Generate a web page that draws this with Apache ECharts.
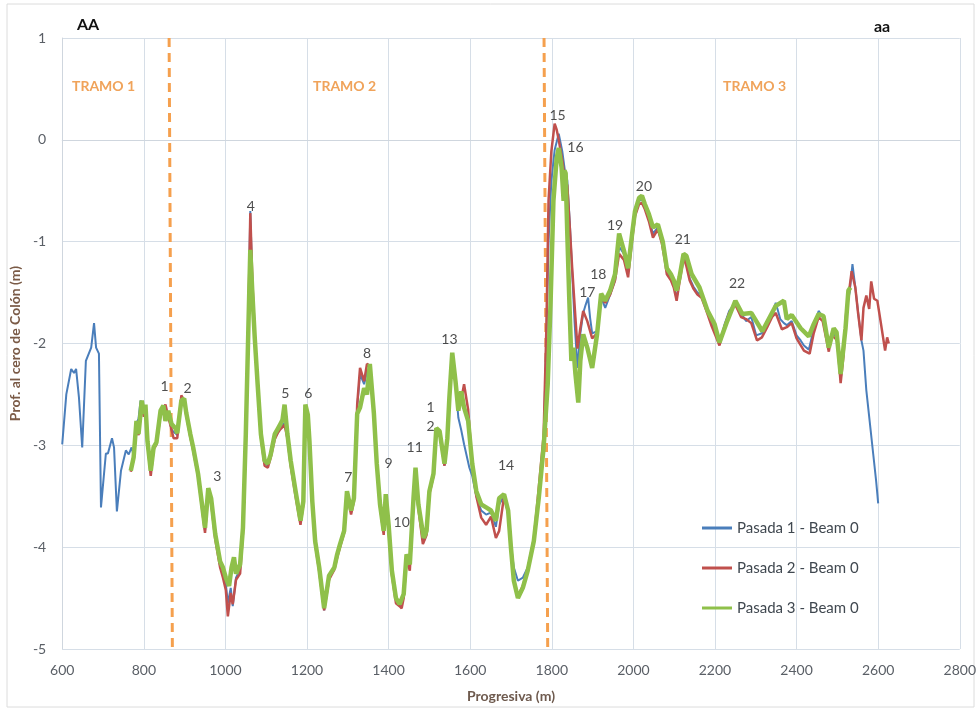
<!DOCTYPE html>
<html>
<head>
<meta charset="utf-8">
<script src="https://cdn.jsdelivr.net/npm/echarts@6/dist/echarts.min.js"></script>
<style>
  html, body { margin: 0; padding: 0; background: #fff; }
  #chart { width: 979px; height: 715px; }
</style>
</head>
<body>
<div id="chart"></div>
<script>
// Axis ranges
const xRange = [600, 2800, 200];
const yRange = [-5, 1, 1];

// Pasada 1 - Beam 0 (progresiva m, profundidad m)
const pasada1 = [
  [600,-2.99],[610,-2.5],[622,-2.25],[629,-2.29],[634,-2.25],[641,-2.53],[649,-3.02],[658,-2.17],[671,-2.04],
  [678,-1.8],[683,-2.04],[690,-2.1],[695,-3.61],[707,-3.08],[712,-3.08],[722,-2.93],[727,-3.02],[734,-3.65],
  [744,-3.25],[756,-3.05],[763,-3.09],[770,-3.02],[775,-3.1],[782,-2.78],[787,-2.74],[792,-2.56],[800,-2.7],
  [804,-2.62],[809,-2.95],[817,-3.27],[824,-3.03],[831,-2.98],[841,-2.68],[848,-2.63],[853,-2.66],[860,-2.7],
  [868,-2.85],[877,-2.88],[882,-2.9],[892,-2.54],[899,-2.55],[904,-2.7],[914,-2.9],[921,-3.04],[933,-3.3],
  [950,-3.84],[958,-3.45],[965,-3.56],[975,-3.9],[987,-4.18],[994,-4.25],[1001,-4.36],[1006,-4.55],[1013,-4.4],
  [1018,-4.58],[1026,-4.3],[1036,-4.22],[1043,-3.85],[1050,-2.9],[1056,-1.8],[1061,-0.7],[1066,-1.4],[1072,-1.9],
  [1079,-2.38],[1087,-2.9],[1096,-3.17],[1104,-3.2],[1111,-3.1],[1121,-2.92],[1128,-2.88],[1135,-2.82],[1140,-2.8],
  [1145,-2.78],[1152,-2.92],[1160,-3.17],[1172,-3.48],[1184,-3.76],[1191,-3.57],[1196,-2.62],[1202,-2.72],
  [1206,-2.98],[1213,-3.56],[1220,-3.95],[1230,-4.22],[1242,-4.62],[1254,-4.3],[1267,-4.2],[1274,-4.08],
  [1281,-3.98],[1291,-3.85],[1298,-3.47],[1308,-3.66],[1315,-3.54],[1323,-2.62],[1330,-2.3],[1340,-2.4],
  [1347,-2.28],[1354,-2.25],[1364,-2.7],[1371,-3.2],[1379,-3.6],[1388,-3.86],[1393,-3.5],[1400,-3.8],[1408,-4.25],
  [1418,-4.52],[1427,-4.57],[1432,-4.55],[1437,-4.48],[1444,-4.1],[1452,-4.2],[1461,-3.54],[1466,-3.24],
  [1473,-3.6],[1486,-3.95],[1493,-3.86],[1500,-3.47],[1510,-3.3],[1517,-2.85],[1525,-2.88],[1537,-3.2],
  [1544,-2.95],[1549,-2.55],[1556,-2.1],[1564,-2.4],[1571,-2.73],[1578,-2.85],[1585,-2.99],[1598,-3.22],
  [1605,-3.3],[1615,-3.5],[1627,-3.64],[1639,-3.68],[1651,-3.66],[1663,-3.8],[1671,-3.58],[1683,-3.5],
  [1693,-3.66],[1700,-3.98],[1707,-4.2],[1717,-4.33],[1729,-4.3],[1741,-4.2],[1756,-3.92],[1768,-3.48],
  [1780,-2.96],[1787,-1.9],[1792,-1.0],[1799,-0.4],[1807,-0.1],[1817,0.06],[1826,-0.12],[1832,-0.3],
  [1838,-0.4],[1844,-0.8],[1850,-1.3],[1856,-1.8],[1863,-2.24],[1870,-1.9],[1877,-1.7],[1883,-1.62],
  [1889,-1.55],[1894,-1.75],[1899,-1.9],[1911,-1.88],[1921,-1.55],[1931,-1.65],[1943,-1.52],[1955,-1.38],
  [1965,-1.05],[1977,-1.12],[1987,-1.3],[1997,-0.95],[2004,-0.72],[2014,-0.6],[2021,-0.58],[2028,-0.66],
  [2038,-0.78],[2048,-0.92],[2060,-0.86],[2070,-1.0],[2077,-1.16],[2082,-1.3],[2092,-1.36],[2099,-1.42],
  [2106,-1.56],[2113,-1.38],[2123,-1.15],[2130,-1.22],[2138,-1.36],[2147,-1.44],[2157,-1.5],[2167,-1.52],
  [2179,-1.65],[2191,-1.8],[2201,-1.9],[2211,-2.0],[2223,-1.82],[2235,-1.68],[2250,-1.6],[2264,-1.7],
  [2276,-1.78],[2289,-1.74],[2301,-1.92],[2315,-1.9],[2328,-1.8],[2340,-1.7],[2349,-1.6],[2360,-1.76],
  [2369,-1.8],[2376,-1.82],[2388,-1.78],[2400,-1.92],[2410,-1.97],[2418,-2.02],[2430,-2.06],[2442,-1.86],
  [2454,-1.68],[2464,-1.74],[2471,-1.9],[2479,-2.06],[2486,-1.9],[2495,-1.92],[2500,-1.95],[2508,-2.36],
  [2515,-2.1],[2522,-1.66],[2530,-1.5],[2537,-1.22],[2544,-1.45],[2551,-1.7],[2559,-1.97],[2564,-2.07],
  [2571,-2.46],[2581,-2.83],[2588,-3.09],[2595,-3.35],[2598,-3.48],[2600,-3.57]
];

// Pasada 2 - Beam 0
const pasada2 = [
  [768,-3.26],[775,-3.14],[782,-2.8],[787,-2.9],[795,-2.6],[800,-2.72],[804,-2.63],[809,-2.98],[817,-3.3],
  [824,-3.04],[831,-2.99],[841,-2.7],[848,-2.64],[853,-2.6],[860,-2.72],[868,-2.85],[873,-2.93],[882,-2.93],
  [892,-2.51],[899,-2.56],[904,-2.7],[914,-2.92],[921,-3.05],[933,-3.3],[950,-3.86],[958,-3.46],[965,-3.56],
  [975,-3.92],[987,-4.2],[994,-4.3],[1001,-4.42],[1006,-4.68],[1013,-4.45],[1018,-4.56],[1026,-4.32],
  [1036,-4.26],[1043,-3.86],[1050,-2.92],[1056,-1.85],[1061,-0.72],[1066,-1.38],[1072,-1.92],[1079,-2.4],
  [1087,-2.92],[1096,-3.2],[1104,-3.22],[1111,-3.12],[1121,-2.94],[1128,-2.88],[1135,-2.84],[1140,-2.82],
  [1145,-2.8],[1152,-2.93],[1160,-3.2],[1172,-3.5],[1184,-3.78],[1191,-3.58],[1196,-2.63],[1202,-2.74],
  [1206,-3.0],[1213,-3.58],[1220,-3.97],[1230,-4.24],[1242,-4.62],[1254,-4.32],[1267,-4.22],[1274,-4.1],
  [1281,-4.0],[1291,-3.86],[1298,-3.48],[1308,-3.68],[1315,-3.55],[1323,-2.6],[1330,-2.24],[1340,-2.37],
  [1347,-2.2],[1354,-2.22],[1364,-2.7],[1371,-3.2],[1379,-3.6],[1388,-3.88],[1393,-3.5],[1400,-3.82],
  [1408,-4.27],[1418,-4.55],[1427,-4.58],[1432,-4.6],[1437,-4.5],[1444,-4.12],[1452,-4.23],[1461,-3.55],
  [1466,-3.25],[1473,-3.62],[1484,-3.97],[1493,-3.88],[1500,-3.48],[1510,-3.3],[1517,-2.85],[1525,-2.88],
  [1537,-3.2],[1544,-2.95],[1549,-2.55],[1556,-2.1],[1564,-2.38],[1571,-2.62],[1578,-2.55],[1585,-2.4],
  [1595,-2.65],[1605,-3.2],[1615,-3.5],[1627,-3.71],[1639,-3.78],[1651,-3.7],[1663,-3.91],[1671,-3.84],
  [1683,-3.5],[1693,-3.66],[1700,-4.02],[1707,-4.32],[1717,-4.48],[1729,-4.38],[1741,-4.22],[1756,-3.92],
  [1768,-3.42],[1780,-2.9],[1787,-1.8],[1792,-0.6],[1799,-0.11],[1807,0.16],[1812,0.1],[1817,0.0],
  [1826,-0.21],[1831,-0.35],[1838,-0.45],[1844,-0.85],[1850,-1.26],[1858,-1.75],[1863,-2.05],[1870,-1.85],
  [1877,-1.68],[1887,-1.78],[1899,-1.95],[1911,-1.9],[1921,-1.55],[1931,-1.6],[1943,-1.52],[1955,-1.38],
  [1965,-1.12],[1977,-1.18],[1987,-1.35],[1997,-0.98],[2004,-0.75],[2014,-0.63],[2021,-0.62],[2028,-0.68],
  [2038,-0.8],[2048,-0.96],[2060,-0.88],[2070,-1.02],[2077,-1.18],[2082,-1.32],[2092,-1.38],[2099,-1.45],
  [2106,-1.58],[2113,-1.4],[2123,-1.16],[2130,-1.24],[2138,-1.38],[2147,-1.46],[2157,-1.52],[2167,-1.55],
  [2179,-1.68],[2191,-1.82],[2201,-1.92],[2211,-2.02],[2223,-1.84],[2235,-1.7],[2250,-1.62],[2264,-1.74],
  [2276,-1.76],[2289,-1.8],[2303,-1.97],[2315,-1.94],[2328,-1.84],[2340,-1.74],[2349,-1.7],[2364,-1.86],
  [2376,-1.84],[2388,-1.8],[2400,-1.95],[2418,-2.07],[2432,-2.1],[2442,-1.9],[2454,-1.74],[2464,-1.78],
  [2471,-1.92],[2479,-2.08],[2486,-1.92],[2495,-1.95],[2500,-1.98],[2508,-2.39],[2515,-2.12],[2522,-1.68],
  [2530,-1.45],[2535,-1.29],[2544,-1.45],[2551,-1.71],[2559,-1.97],[2564,-1.65],[2571,-1.53],[2578,-1.66],
  [2583,-1.39],[2590,-1.56],[2598,-1.58],[2607,-1.81],[2617,-2.07],[2622,-1.94],[2626,-2.0]
];

// Pasada 3 - Beam 0
const pasada3 = [
  [768,-3.25],[775,-3.12],[782,-2.76],[787,-2.89],[795,-2.56],[800,-2.69],[804,-2.6],[809,-2.96],[817,-3.25],
  [824,-3.02],[831,-2.97],[841,-2.66],[848,-2.61],[853,-2.76],[860,-2.66],[868,-2.79],[877,-2.83],[882,-2.88],
  [892,-2.56],[899,-2.54],[904,-2.68],[914,-2.89],[921,-3.02],[933,-3.28],[950,-3.81],[958,-3.42],[965,-3.52],
  [975,-3.87],[987,-4.14],[994,-4.2],[1001,-4.3],[1009,-4.38],[1015,-4.2],[1021,-4.1],[1026,-4.26],
  [1036,-4.17],[1043,-3.81],[1050,-2.89],[1056,-1.9],[1061,-1.08],[1066,-1.5],[1072,-1.95],[1079,-2.4],
  [1087,-2.89],[1096,-3.15],[1104,-3.18],[1111,-3.09],[1121,-2.89],[1128,-2.84],[1135,-2.79],[1140,-2.75],
  [1145,-2.6],[1152,-2.89],[1160,-3.15],[1172,-3.45],[1184,-3.74],[1191,-3.55],[1196,-2.6],[1202,-2.7],
  [1206,-2.96],[1213,-3.55],[1220,-3.94],[1230,-4.2],[1242,-4.6],[1254,-4.28],[1267,-4.2],[1274,-4.07],
  [1281,-3.97],[1291,-3.84],[1298,-3.45],[1308,-3.64],[1315,-3.52],[1323,-2.69],[1330,-2.63],[1340,-2.44],
  [1347,-2.5],[1354,-2.2],[1364,-2.69],[1371,-3.18],[1379,-3.58],[1388,-3.84],[1393,-3.48],[1400,-3.78],
  [1408,-4.23],[1418,-4.5],[1427,-4.56],[1437,-4.46],[1444,-4.07],[1452,-4.17],[1461,-3.52],[1466,-3.22],
  [1473,-3.58],[1486,-3.91],[1493,-3.84],[1500,-3.45],[1510,-3.28],[1517,-2.83],[1525,-2.86],[1537,-3.18],
  [1544,-2.93],[1549,-2.53],[1556,-2.09],[1564,-2.37],[1571,-2.66],[1578,-2.47],[1585,-2.63],[1595,-2.76],
  [1605,-3.18],[1615,-3.45],[1627,-3.58],[1639,-3.61],[1651,-3.64],[1663,-3.74],[1671,-3.52],[1683,-3.48],
  [1693,-3.64],[1700,-4.01],[1707,-4.33],[1717,-4.5],[1729,-4.4],[1741,-4.23],[1756,-3.94],[1768,-3.52],
  [1780,-3.02],[1790,-2.4],[1797,-1.6],[1804,-0.6],[1812,-0.18],[1817,-0.08],[1824,-0.27],[1829,-0.6],
  [1831,-0.3],[1834,-0.33],[1838,-0.92],[1843,-1.58],[1848,-2.17],[1853,-2.04],[1858,-2.3],[1865,-2.58],
  [1870,-2.17],[1877,-1.91],[1887,-2.04],[1899,-2.24],[1911,-1.91],[1921,-1.51],[1931,-1.58],[1943,-1.48],
  [1955,-1.32],[1965,-0.92],[1977,-1.09],[1987,-1.26],[1997,-0.92],[2004,-0.7],[2014,-0.57],[2021,-0.55],
  [2028,-0.63],[2038,-0.73],[2048,-0.86],[2060,-0.83],[2072,-1.0],[2082,-1.26],[2092,-1.32],[2099,-1.38],
  [2106,-1.48],[2113,-1.35],[2123,-1.12],[2130,-1.14],[2143,-1.32],[2162,-1.45],[2182,-1.68],[2199,-1.81],
  [2211,-1.99],[2230,-1.78],[2250,-1.58],[2267,-1.71],[2289,-1.7],[2316,-1.88],[2349,-1.63],[2369,-1.58],
  [2376,-1.76],[2388,-1.72],[2410,-1.85],[2430,-1.93],[2442,-1.81],[2454,-1.71],[2466,-1.73],[2479,-2.04],
  [2491,-1.85],[2498,-1.89],[2508,-2.3],[2520,-1.85],[2527,-1.48],[2532,-1.45]
];

// Tramo boundaries (dashed verticals)
const limite1 = [[862, 1], [870, -5]];
const limite2 = [[1781, 1], [1790, -5]];

// Numbered points along the profile
const puntoTexto = ['1','2','3','4','5','6','7','8','9','10','11','1\n2','13','14','15','16','17','18','19','20','21','22'];
const puntoX = [851, 907, 980, 1062, 1147, 1203, 1301, 1347, 1400, 1432, 1464, 1503, 1549, 1688, 1814, 1858, 1887, 1914, 1955, 2026, 2121, 2254];
const puntoY = [-2.42, -2.44, -3.31, -0.65, -2.49, -2.49, -3.32, -2.10, -3.18, -3.76, -3.02, -2.72, -1.96, -3.20, 0.24, -0.08, -1.50, -1.32, -0.84, -0.46, -0.98, -1.41];

const nombres = ['Pasada 1 - Beam 0', 'Pasada 2 - Beam 0', 'Pasada 3 - Beam 0'];
const tramos = ['TRAMO 1', 'TRAMO 2', 'TRAMO 3'];

const FONT = 'Lato, "Liberation Sans", sans-serif';
const chart = echarts.init(document.getElementById('chart'), null, { renderer: 'canvas' });

const etiquetas = puntoTexto.map((t, i) => ({ value: [puntoX[i], puntoY[i]], name: t }));

const option = {
  backgroundColor: '#ffffff',
  animation: false,
  grid: { left: 58, right: 17, top: 38, bottom: 66, containLabel: false },
  xAxis: {
    type: 'value', min: xRange[0], max: xRange[1], interval: xRange[2],
    name: 'Progresiva (m)', nameLocation: 'middle', nameGap: 40,
    nameTextStyle: { fontFamily: FONT, fontSize: 14, fontWeight: 'bold', color: '#6e5a4e' },
    axisLine: { show: true, lineStyle: { color: '#cfd6de', width: 1 } },
    axisTick: { show: false },
    axisLabel: { fontFamily: FONT, fontSize: 14, color: '#5a5f66', margin: 14, formatter: v => String(v) },
    splitLine: { show: true, lineStyle: { color: '#d6dee7', width: 1 } }
  },
  yAxis: {
    type: 'value', min: yRange[0], max: yRange[1], interval: yRange[2],
    name: 'Prof. al cero de Colón (m)', nameLocation: 'middle', nameGap: 31,
    nameTextStyle: { fontFamily: FONT, fontSize: 14, fontWeight: 'bold', color: '#7a5a46' },
    axisLine: { show: true, lineStyle: { color: '#cfd6de', width: 1 } },
    axisTick: { show: false },
    axisLabel: { fontFamily: FONT, fontSize: 14, color: '#5a5f66', margin: 16, formatter: v => String(v) },
    splitLine: { show: true, lineStyle: { color: '#d6dee7', width: 1 } }
  },
  legend: {
    data: nombres, orient: 'vertical', left: 697, top: 514,
    icon: 'rect', itemWidth: 30, itemHeight: 3, itemGap: 22,
    textStyle: { fontFamily: FONT, fontSize: 15, color: '#404850', lineHeight: 18 }
  },
  graphic: [
    { type: 'rect', shape: { x: 7, y: 4, width: 967, height: 703 }, style: { fill: 'none', stroke: '#dcdcdc', lineWidth: 1 }, silent: true },
    { type: 'text', left: 77, top: 17, style: { text: 'AA', font: 'bold 16px ' + FONT, fill: '#111' } },
    { type: 'text', left: 874, top: 19, style: { text: 'aa', font: 'bold 16px ' + FONT, fill: '#111' } },
    { type: 'text', left: 72, top: 79, style: { text: tramos[0], font: 'bold 14px ' + FONT, fill: '#f0a35a' } },
    { type: 'text', left: 313, top: 79, style: { text: tramos[1], font: 'bold 14px ' + FONT, fill: '#f0a35a' } },
    { type: 'text', left: 723, top: 79, style: { text: tramos[2], font: 'bold 14px ' + FONT, fill: '#f0a35a' } }
  ],
  series: [
    {
      type: 'line', data: limite1, symbol: 'none', silent: true, z: 1,
      lineStyle: { color: '#f5a04e', width: 3, type: [9, 6] }
    },
    {
      type: 'line', data: limite2, symbol: 'none', silent: true, z: 1,
      lineStyle: { color: '#f5a04e', width: 3, type: [9, 6] }
    },
    {
      name: nombres[0], type: 'line', data: pasada1, symbol: 'none', z: 2,
      color: '#4a7ebb', lineStyle: { color: '#4a7ebb', width: 2 }
    },
    {
      name: nombres[1], type: 'line', data: pasada2, symbol: 'none', z: 3,
      color: '#c0504d', lineStyle: { color: '#c0504d', width: 2.5 }
    },
    {
      name: nombres[2], type: 'line', data: pasada3, symbol: 'none', z: 4,
      color: '#8fc04a', lineStyle: { color: '#8fc04a', width: 4.5 }
    },
    {
      type: 'scatter', data: etiquetas, symbolSize: 0, silent: true, z: 5,
      label: {
        show: true, position: 'inside', formatter: p => p.name,
        fontFamily: FONT, fontSize: 14, color: '#222', lineHeight: 19
      }
    }
  ]
};

chart.setOption(option);
</script>
</body>
</html>
